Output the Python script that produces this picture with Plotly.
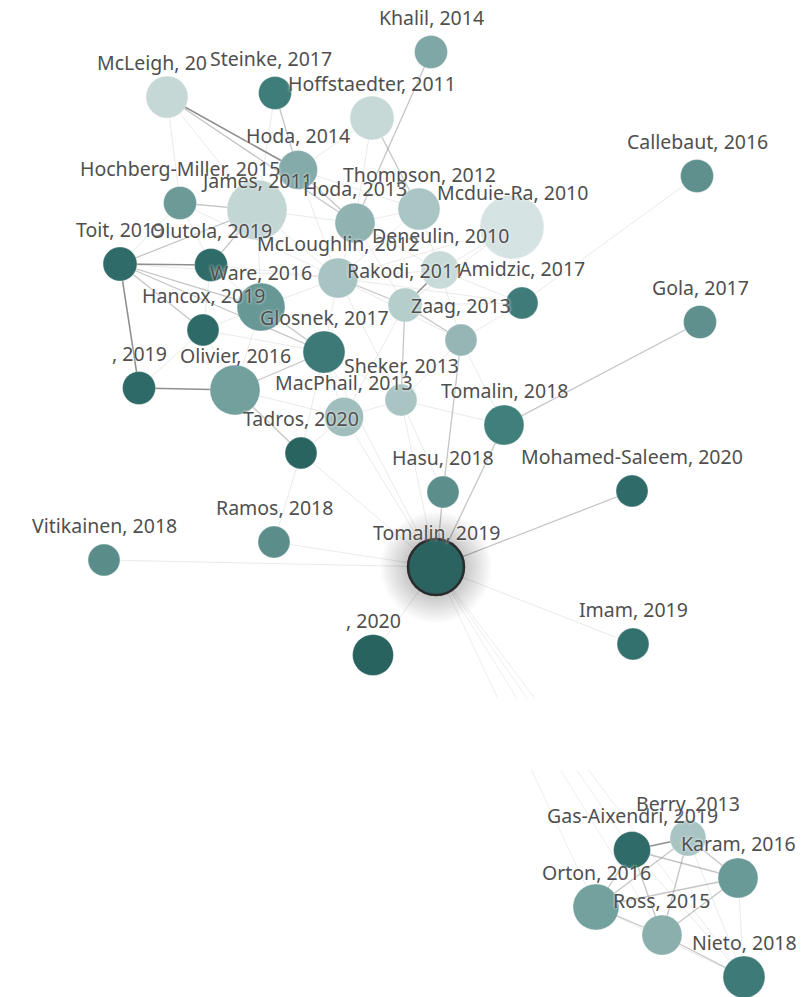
import plotly.graph_objects as go

# ---------------- data ----------------
keys = ["KH", "MCL", "ST", "HF", "H14", "HM", "JA", "TH", "H13", "MR",
        "TO", "OL", "MCG", "DE", "RA", "AM", "ZA", "WA", "HA", "GL",
        "U19", "OV", "SH", "MP", "T18", "TA", "HS", "MS", "VI", "RM",
        "T19", "U20", "IM", "CB", "GO", "GA", "BE", "KA", "OR", "RO", "NI"]

labels = ["Khalil, 2014", "McLeigh, 20", "Steinke, 2017", "Hoffstaedter, 2011",
          "Hoda, 2014", "Hochberg-Miller, 2015", "James, 2011", "Thompson, 2012",
          "Hoda, 2013", "Mcduie-Ra, 2010", "Toit, 2019", "Olutola, 2019",
          "McLoughlin, 2012", "Deneulin, 2010", "Rakodi, 2011", "Amidzic, 2017",
          "Zaag, 2013", "Ware, 2016", "Hancox, 2019", "Glosnek, 2017",
          ", 2019", "Olivier, 2016", "Sheker, 2013", "MacPhail, 2013",
          "Tomalin, 2018", "Tadros, 2020", "Hasu, 2018", "Mohamed-Saleem, 2020",
          "Vitikainen, 2018", "Ramos, 2018", "Tomalin, 2019", ", 2020",
          "Imam, 2019", "Callebaut, 2016", "Gola, 2017", "Gas-Aixendri, 2019",
          "Berry, 2013", "Karam, 2016", "Orton, 2016", "Ross, 2015", "Nieto, 2018"]

# graph layout coordinates of each node
node_x = [431, 167, 275, 372, 298, 180, 257, 419, 355, 512,
          120, 211, 338, 440, 405, 522, 461, 261, 203, 324,
          139, 235, 401, 344, 504, 301, 443, 632, 104, 274,
          436, 373, 633, 697, 700, 632, 688, 738, 596, 662, 744]
node_y = [52, 97, 93, 118, 170, 203, 210, 209, 223, 227,
          264, 265, 278, 270, 305, 303, 340, 307, 330, 352,
          388, 390, 400, 417, 425, 453, 492, 491, 560, 542,
          567, 655, 644, 176, 322, 850, 838, 878, 907, 935, 977]

# relative node weight (citations) -> diameter
node_weight = [33, 42, 33, 44, 39, 33, 60, 42, 40, 64,
               34, 33, 40, 38, 34, 32, 32, 48, 32, 42,
               33, 50, 32, 39, 40, 32, 32, 32, 32, 32,
               56, 41, 32, 33, 33, 37, 36, 40, 46, 40, 42]

# node year shade (darker = newer)
node_color = ["#7fa7a5", "#c5d8d6", "#3f7d7a", "#c6d9d7", "#84aba9", "#6b9a97",
              "#c2d6d4", "#aac6c4", "#90b3b1", "#d5e3e2", "#2f6b68", "#2f6b68",
              "#a8c4c2", "#c8dbd9", "#b5cecc", "#3f7c79", "#95b6b4", "#679895",
              "#2e6a67", "#3d7976", "#2e6a67", "#71a09d", "#a9c5c3", "#a0bebc",
              "#40807c", "#2a6461", "#5c8e8b", "#2f6b68", "#5a8c89", "#5b8d8a",
              "#2a6360", "#296360", "#33716e", "#5f908d", "#5f908d", "#2f6b68",
              "#a9c5c3", "#6a9a97", "#72a19e", "#8aafac", "#3e7b78"]

edges_strong = [("TO", "U19"), ("GA", "BE"), ("MCL", "H14"), ("DE", "RA"),
                ("TO", "OL"), ("U19", "OV")]
edges_medium = [("MCL", "H13"), ("ST", "H14"), ("HF", "TH"), ("KH", "H13"),
                ("TO", "WA"), ("TO", "GL"), ("TO", "HA"), ("TO", "JA"),
                ("HS", "T19"), ("MS", "T19"), ("T18", "GO"), ("T18", "T19"),
                ("HS", "ZA"), ("OV", "TA"), ("GL", "OV"), ("WA", "GL"),
                ("MCG", "RA"), ("H14", "H13"), ("JA", "OL"), ("HM", "JA"),
                ("GA", "KA"), ("GA", "OR"), ("GA", "RO"), ("BE", "KA"),
                ("BE", "OR"), ("BE", "RO"), ("KA", "RO"), ("OR", "RO"),
                ("RO", "NI"), ("KA", "OR"), ("RA", "ZA"), ("SH", "RA")]
edges_faint = [("MCL", "JA"), ("MCL", "HM"), ("ST", "JA"), ("HF", "H13"),
               ("HF", "H14"), ("H14", "MCG"), ("H14", "JA"), ("H14", "TH"),
               ("HM", "TO"), ("HM", "OL"), ("HM", "MCG"), ("JA", "MCG"),
               ("JA", "WA"), ("JA", "H13"), ("TH", "MCG"), ("TH", "DE"),
               ("TH", "H13"), ("H13", "MCG"), ("H13", "RA"), ("H13", "DE"),
               ("MR", "DE"), ("MR", "RA"), ("MR", "MCG"), ("TO", "MCG"),
               ("OL", "WA"), ("OL", "MCG"), ("OL", "HA"), ("MCG", "DE"),
               ("MCG", "WA"), ("MCG", "GL"), ("MCG", "ZA"), ("MCG", "SH"),
               ("MCG", "AM"), ("DE", "AM"), ("DE", "ZA"), ("RA", "AM"),
               ("RA", "MP"), ("AM", "ZA"), ("AM", "CB"), ("ZA", "T18"),
               ("ZA", "SH"), ("WA", "HA"), ("WA", "OV"), ("HA", "GL"),
               ("HA", "OV"), ("HA", "U19"), ("GL", "SH"), ("GL", "MP"),
               ("GL", "TA"), ("GL", "T19"), ("OV", "MP"), ("SH", "MP"),
               ("SH", "T18"), ("SH", "T19"), ("SH", "HS"), ("MP", "TA"),
               ("MP", "T19"), ("TA", "T19"), ("TA", "RM"), ("RM", "T19"),
               ("VI", "T19"), ("U20", "T19"), ("IM", "T19"),
               ("GA", "NI"), ("BE", "NI"), ("KA", "NI"), ("OR", "NI")]
# very faint links from the origin paper to the lower cluster
edges_far = [("T19", "GA"), ("T19", "OR"), ("T19", "RO"), ("T19", "NI")]

focus_key = "T19"

# ---------------- build ----------------
idx = {k: i for i, k in enumerate(keys)}


def edge_xy(edges):
    xs, ys = [], []
    for a, b in edges:
        xs += [node_x[idx[a]], node_x[idx[b]], None]
        ys += [node_y[idx[a]], node_y[idx[b]], None]
    return xs, ys


fig = go.Figure()

for edges, col, w in [(edges_far, "rgba(200,200,200,0.3)", 1.0),
                      (edges_faint, "rgba(185,185,185,0.3)", 1.0),
                      (edges_medium, "rgba(140,140,140,0.5)", 1.3),
                      (edges_strong, "rgba(95,95,95,0.7)", 1.6)]:
    ex, ey = edge_xy(edges)
    fig.add_trace(go.Scatter(x=ex, y=ey, mode="lines",
                             line=dict(color=col, width=w),
                             hoverinfo="skip", showlegend=False))

fi = idx[focus_key]
# soft glow / shadow around the origin paper (stacked translucent discs)
glow_sizes = list(range(112, 56, -3))
fig.add_trace(go.Scatter(
    x=[node_x[fi]] * len(glow_sizes), y=[node_y[fi]] * len(glow_sizes),
    mode="markers",
    marker=dict(size=glow_sizes, color="rgba(0,0,0,0.017)", line=dict(width=0)),
    hoverinfo="skip", showlegend=False))

line_cols = ["rgba(255,255,255,0.5)"] * len(keys)
line_ws = [0.6] * len(keys)
line_cols[fi] = "#2b2b2b"
line_ws[fi] = 2.5

fig.add_trace(go.Scatter(
    x=node_x, y=node_y, mode="markers",
    marker=dict(size=node_weight, color=node_color,
                line=dict(color=line_cols, width=line_ws), opacity=1),
    text=labels, hoverinfo="text", showlegend=False))

label_xshift = {"MCL": -15, "ST": -4}
label_yshift = {"JA": 30}

annotations = []
for i, k in enumerate(keys):
    annotations.append(dict(
        x=node_x[i], y=node_y[i], xref="x", yref="y",
        text=labels[i], showarrow=False,
        xshift=label_xshift.get(k, 0), yshift=label_yshift.get(k, 35),
        font=dict(family="Noto Sans", size=19.5, color="#4f4f4f",
                  shadow="0px 0px 3px white")))

fig.update_layout(
    width=808, height=997,
    margin=dict(l=0, r=0, t=0, b=0),
    paper_bgcolor="white", plot_bgcolor="white",
    xaxis=dict(range=[0, 808], visible=False, fixedrange=True),
    yaxis=dict(range=[997, 0], visible=False, fixedrange=True),
    annotations=annotations,
    shapes=[dict(type="rect", xref="x", yref="y", x0=0, x1=808, y0=699, y1=770,
                 fillcolor="white", line=dict(width=0), layer="above")],
)

fig.write_html(
    "out.html",
    config={"displayModeBar": False},
    post_script="document.body.style.margin='0';document.body.style.padding='0';"
                "document.body.style.overflow='hidden';",
)
